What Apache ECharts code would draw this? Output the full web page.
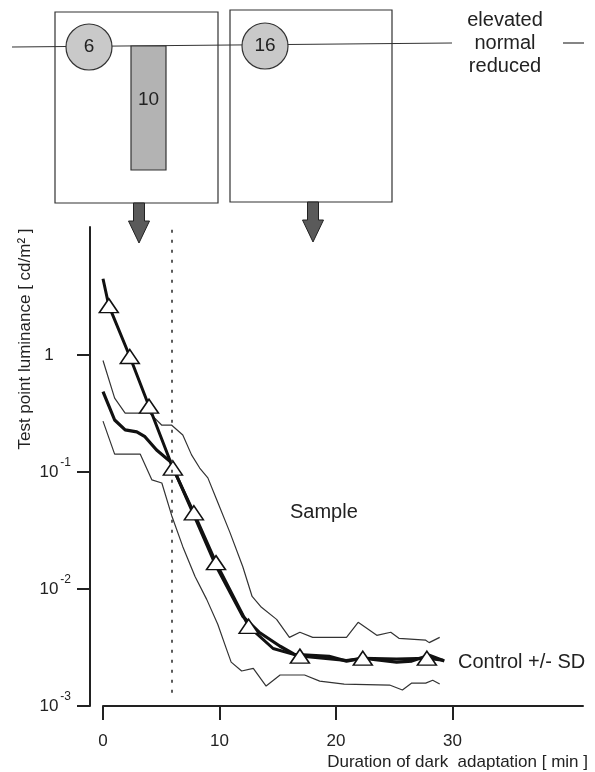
<!DOCTYPE html>
<html>
<head>
<meta charset="utf-8">
<script src="https://cdn.jsdelivr.net/npm/echarts@6.0.0/dist/echarts.min.js"></script>
<style>
  html, body { margin: 0; padding: 0; background: #fff; }
  #chart { width: 595px; height: 772px; }
</style>
</head>
<body>
<div id="chart"></div>
<script>
// dark adaptation curves
const sampleTime = [0, 0.5, 2.3, 3.95, 6.0, 7.8, 9.7, 12.5, 14.6, 16.9, 20.9, 22.3, 25.2, 27.8, 29.2];
const sampleValue = [4.48, 2.64, 0.97, 0.365, 0.108, 0.0448, 0.0168, 0.0048, 0.0031, 0.00267, 0.00245, 0.00256, 0.00252, 0.00256, 0.00246];
const sampleMarkerIndex = [1, 2, 3, 4, 5, 6, 7, 9, 11, 13];

const controlTime = [0, 1.0, 1.9, 2.9, 3.6, 4.6, 5.8, 7.8, 9.7, 12.0, 13.4, 15.2, 16.4, 19.4, 20.9, 22.3, 25.2, 26.5, 28.0, 29.3];
const controlMean = [0.485, 0.278, 0.229, 0.22, 0.2, 0.154, 0.122, 0.043, 0.0158, 0.00584, 0.00427, 0.00324, 0.00277, 0.00266, 0.00242, 0.00256, 0.00237, 0.00242, 0.00272, 0.00242];

const upperTime = [0, 1.0, 1.9, 4.0, 5.05, 5.9, 6.85, 7.6, 8.3, 9.0, 9.76, 10.9, 12.0, 12.8, 13.6, 14.9, 16.0, 16.9, 18.0, 20.9, 21.9, 23.5, 24.7, 25.4, 27.7, 28.0, 28.9];
const upperValue = [0.897, 0.427, 0.318, 0.318, 0.251, 0.251, 0.207, 0.14, 0.108, 0.089, 0.0578, 0.0303, 0.0155, 0.00863, 0.00697, 0.0055, 0.00386, 0.00427, 0.00386, 0.00386, 0.00519, 0.00402, 0.00427, 0.00379, 0.00365, 0.00348, 0.00386];

const lowerTime = [0, 1.0, 3.2, 4.2, 5.05, 5.9, 6.85, 7.9, 8.9, 9.85, 10.6, 11.0, 11.9, 12.9, 14.0, 15.2, 17.3, 18.6, 20.7, 24.6, 25.7, 26.5, 27.7, 28.3, 28.9];
const lowerValue = [0.272, 0.142, 0.142, 0.0855, 0.0805, 0.0423, 0.023, 0.0128, 0.00815, 0.00499, 0.00306, 0.00237, 0.00199, 0.0021, 0.00148, 0.00184, 0.00184, 0.00163, 0.00154, 0.00151, 0.00137, 0.00157, 0.00157, 0.00166, 0.00154];

const xTicks = [0, 10, 20, 30];
const yTicks = [0.001, 0.01, 0.1, 1];
const darkMarkTime = 5.9;

const font = "'Liberation Sans', Arial, sans-serif";
const ink = "#222";

function pairs(xs, ys) {
  return xs.map((x, i) => [x, ys[i]]);
}

const sampleData = pairs(sampleTime, sampleValue).map((p, i) => ({
  value: p,
  symbol: sampleMarkerIndex.includes(i) ? "triangle" : "none"
}));

function arrow(cx, top) {
  return {
    type: "polygon",
    shape: {
      points: [
        [cx - 5.5, top], [cx + 5.5, top], [cx + 5.5, top + 18], [cx + 10.5, top + 18],
        [cx, top + 40], [cx - 10.5, top + 18], [cx - 5.5, top + 18]
      ]
    },
    style: { fill: "#5a5a5a", stroke: "#222", lineWidth: 1 }
  };
}

function label(text, x, y, size, align) {
  return {
    type: "text",
    x: x,
    y: y,
    style: { text: text, fontFamily: font, fontSize: size, fill: ink, align: align || "center", verticalAlign: "middle" }
  };
}

const chart = echarts.init(document.getElementById("chart"), null, { renderer: "canvas" });

chart.setOption({
  animation: false,
  backgroundColor: "#fff",
  grid: { left: 103, right: 12, top: 227, bottom: 66 },
  xAxis: {
    type: "value",
    min: 0,
    max: 41.2,
    splitLine: { show: false },
    axisLine: { onZero: false, lineStyle: { color: ink, width: 2 } },
    axisTick: { customValues: xTicks, length: 14, lineStyle: { color: ink, width: 2 } },
    axisLabel: { customValues: xTicks, margin: 27, fontSize: 17, fontFamily: font, color: ink }
  },
  yAxis: {
    type: "log",
    logBase: 10,
    min: 0.001,
    max: 12.4,
    offset: 13,
    splitLine: { show: false },
    axisLine: { show: true, onZero: false, lineStyle: { color: ink, width: 2 } },
    axisTick: { show: true, customValues: yTicks, length: 13, lineStyle: { color: ink, width: 2 } },
    axisLabel: {
      customValues: yTicks,
      margin: 18,
      fontFamily: font,
      color: ink,
      formatter: (v) => {
        const e = Math.round(Math.log10(v));
        return e === 0 ? "{b|1}{s| }" : "{b|10}{s|" + e + "}";
      },
      rich: {
        b: { fontSize: 17, fontFamily: font, color: ink, width: 20, align: "center", lineHeight: 30, verticalAlign: "middle" },
        s: { fontSize: 12, fontFamily: font, color: ink, width: 13, align: "left", lineHeight: 12, verticalAlign: "top" }
      }
    }
  },
  series: [
    {
      name: "Control - SD",
      type: "line",
      data: pairs(lowerTime, lowerValue),
      showSymbol: false,
      lineStyle: { color: "#333", width: 1.2 },
      z: 2
    },
    {
      name: "Control + SD",
      type: "line",
      data: pairs(upperTime, upperValue),
      showSymbol: false,
      lineStyle: { color: "#333", width: 1.2 },
      z: 2,
      markLine: {
        silent: true,
        symbol: "none",
        label: { show: false },
        lineStyle: { color: "#333", width: 1.6, type: [3, 7] },
        data: [[{ coord: [darkMarkTime, 0.0013] }, { coord: [darkMarkTime, 12.2] }]]
      }
    },
    {
      name: "Control",
      type: "line",
      data: pairs(controlTime, controlMean),
      showSymbol: false,
      lineStyle: { color: "#111", width: 3.2 },
      z: 3
    },
    {
      name: "Sample",
      type: "line",
      data: sampleData,
      showSymbol: true,
      symbolSize: [19, 14],
      itemStyle: { color: "#fff", borderColor: "#111", borderWidth: 1.5 },
      lineStyle: { color: "#111", width: 3 },
      z: 4
    }
  ],
  graphic: [
    // top schematic
    { type: "rect", shape: { x: 55, y: 12, width: 163, height: 191 }, style: { fill: "#fff", stroke: "#333", lineWidth: 1.2 } },
    { type: "rect", shape: { x: 230, y: 10, width: 162, height: 192 }, style: { fill: "#fff", stroke: "#333", lineWidth: 1.2 } },
    { type: "line", shape: { x1: 12, y1: 47, x2: 452, y2: 43 }, style: { stroke: "#333", lineWidth: 1.2 } },
    { type: "rect", shape: { x: 131, y: 46, width: 35, height: 124 }, style: { fill: "#b3b3b3", stroke: "#333", lineWidth: 1.2 } },
    label("10", 148.5, 100, 19),
    { type: "circle", shape: { cx: 89, cy: 47, r: 23 }, style: { fill: "#c9c9c9", stroke: "#333", lineWidth: 1.2 } },
    label("6", 89, 47, 19),
    { type: "circle", shape: { cx: 265, cy: 46, r: 23 }, style: { fill: "#c9c9c9", stroke: "#333", lineWidth: 1.2 } },
    label("16", 265, 46, 19),
    label("elevated", 505, 20, 20),
    label("normal", 505, 43, 20),
    label("reduced", 505, 66, 20),
    { type: "line", shape: { x1: 563, y1: 43, x2: 584, y2: 43 }, style: { stroke: "#333", lineWidth: 1.2 } },
    arrow(139, 203),
    arrow(313, 202),
    // annotations
    label("Sample", 290, 512, 20, "left"),
    label("Control +/- SD", 458, 662, 20, "left"),
    label("Duration of dark  adaptation [ min ]", 588, 762, 17, "right"),
    {
      type: "text",
      x: 25,
      y: 339,
      rotation: Math.PI / 2,
      style: { text: "Test point luminance [ cd/m\u00b2 ]", fontFamily: font, fontSize: 17, fill: ink, align: "center", verticalAlign: "middle" }
    }
  ]
});
</script>
</body>
</html>
